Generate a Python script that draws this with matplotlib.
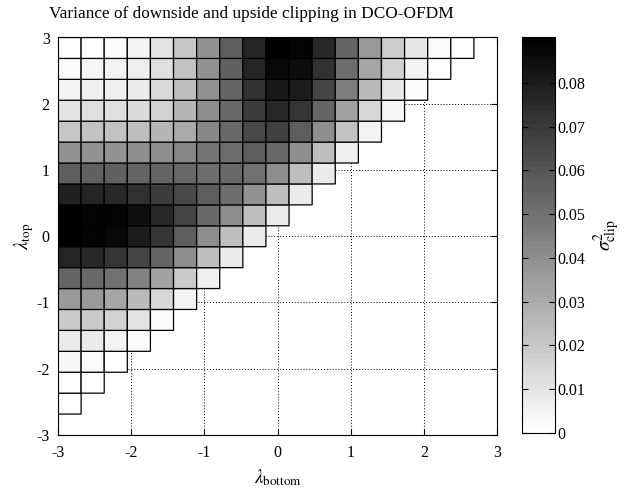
"""Variance of downside and upside clipping noise in DCO-OFDM."""

import numpy as np
import matplotlib
matplotlib.use("Agg")
import matplotlib.pyplot as plt

# clipping levels at the cell edges (both axes)
lam_edges = np.linspace(-3, 3, 20)

# sigma_clip^2 per cell, one list per row of cells, top row first,
# left to right along lambda_bottom (cells right of the diagonal are empty)
row_00 = [0.0000, 0.0000, 0.0025, 0.0053, 0.0110, 0.0209, 0.0390, 0.0568, 0.0770,
          0.0905, 0.0887, 0.0763, 0.0550, 0.0355, 0.0178, 0.0089, 0.0025, 0.0007]
row_01 = [0.0025, 0.0032, 0.0043, 0.0067, 0.0124, 0.0220, 0.0390, 0.0557, 0.0770,
          0.0870, 0.0862, 0.0728, 0.0522, 0.0319, 0.0160, 0.0053, 0.0004]
row_02 = [0.0053, 0.0060, 0.0067, 0.0082, 0.0131, 0.0231, 0.0390, 0.0550, 0.0735,
          0.0816, 0.0799, 0.0657, 0.0461, 0.0248, 0.0096, 0.0025]
row_03 = [0.0110, 0.0117, 0.0124, 0.0131, 0.0167, 0.0259, 0.0401, 0.0532, 0.0692,
          0.0763, 0.0710, 0.0550, 0.0337, 0.0142, 0.0035]
row_04 = [0.0209, 0.0216, 0.0220, 0.0231, 0.0259, 0.0309, 0.0426, 0.0532, 0.0649,
          0.0674, 0.0568, 0.0408, 0.0213, 0.0053]
row_05 = [0.0390, 0.0390, 0.0390, 0.0397, 0.0408, 0.0437, 0.0486, 0.0522, 0.0568,
          0.0532, 0.0408, 0.0231, 0.0067]
row_06 = [0.0568, 0.0557, 0.0557, 0.0550, 0.0543, 0.0532, 0.0522, 0.0532, 0.0508,
          0.0408, 0.0231, 0.0071]
row_07 = [0.0781, 0.0770, 0.0756, 0.0728, 0.0685, 0.0649, 0.0568, 0.0515, 0.0390,
          0.0231, 0.0071]
row_08 = [0.0905, 0.0887, 0.0877, 0.0841, 0.0763, 0.0664, 0.0532, 0.0408, 0.0231, 0.0071]
row_09 = [0.0905, 0.0887, 0.0870, 0.0806, 0.0710, 0.0568, 0.0408, 0.0231, 0.0071]
row_10 = [0.0770, 0.0763, 0.0710, 0.0657, 0.0550, 0.0408, 0.0231, 0.0071]
row_11 = [0.0550, 0.0532, 0.0497, 0.0444, 0.0337, 0.0195, 0.0060]
row_12 = [0.0355, 0.0355, 0.0319, 0.0248, 0.0153, 0.0053]
row_13 = [0.0195, 0.0188, 0.0160, 0.0106, 0.0025]
row_14 = [0.0082, 0.0082, 0.0053, 0.0018]
row_15 = [0.0032, 0.0025, 0.0007]
row_16 = [0.0004, 0.0000]
row_17 = [0.0000]

rows_top_down = [row_00, row_01, row_02, row_03, row_04, row_05, row_06, row_07, row_08,
                 row_09, row_10, row_11, row_12, row_13, row_14, row_15, row_16, row_17]

cbar_ticks = [0, 0.01, 0.02, 0.03, 0.04, 0.05, 0.06, 0.07, 0.08]
axis_ticks = [-3, -2, -1, 0, 1, 2, 3]

plt.rcParams["font.family"] = ["Liberation Serif", "DejaVu Serif"]
plt.rcParams["mathtext.fontset"] = "stix"
plt.rcParams["axes.unicode_minus"] = False

n = len(lam_edges) - 1
C = np.full((n, n), np.nan)
for r, vals in enumerate(rows_top_down):
    C[n - 1 - r, :len(vals)] = vals
C = np.ma.masked_invalid(C)

fig = plt.figure(figsize=(6.29, 4.98), dpi=100)
ax = fig.add_axes([58 / 629, 1 - 435 / 498, 439 / 629, 397.5 / 498])
cax = fig.add_axes([522 / 629, 1 - 433 / 498, 33 / 629, 396 / 498])

cmap = plt.get_cmap("gray_r", 64)
mesh = ax.pcolor(lam_edges, lam_edges, C, cmap=cmap, vmin=0, vmax=0.0905,
                 edgecolors="k", linewidth=0.9, zorder=2)

ax.set_xlim(-3, 3)
ax.set_ylim(-3, 3)
ax.set_xticks(axis_ticks)
ax.set_yticks(axis_ticks)
ax.grid(True, linestyle=(0, (1, 2)), color="k", linewidth=0.7, zorder=0)
ax.set_axisbelow(True)
ax.tick_params(direction="in", length=4, top=True, right=True, labelsize=11.5)
ax.tick_params(axis="x", pad=7)
ax.tick_params(axis="y", pad=6)
for s in ax.spines.values():
    s.set_linewidth(0.8)

fig.text(251 / 629, 1 - 13.5 / 498, "Variance of downside and upside clipping in DCO-OFDM",
         fontsize=12.4, ha="center", va="center")
ax.set_xlabel(r"$\lambda_{\rm bottom}$", fontsize=13.5, labelpad=5)
ax.set_ylabel(r"$\lambda_{\rm top}$", fontsize=13.5, labelpad=0)

cb = fig.colorbar(mesh, cax=cax, ticks=cbar_ticks)
cb.ax.set_yticklabels(["%g" % t for t in cbar_ticks])
cb.ax.tick_params(direction="in", length=4, left=True, right=True, labelsize=11.5, pad=2)
cb.outline.set_linewidth(0.8)
cb.set_label(r"$\sigma^2_{\rm clip}$", fontsize=14, rotation=90, labelpad=4)

plt.savefig("out.png", dpi=100)
plt.close()
